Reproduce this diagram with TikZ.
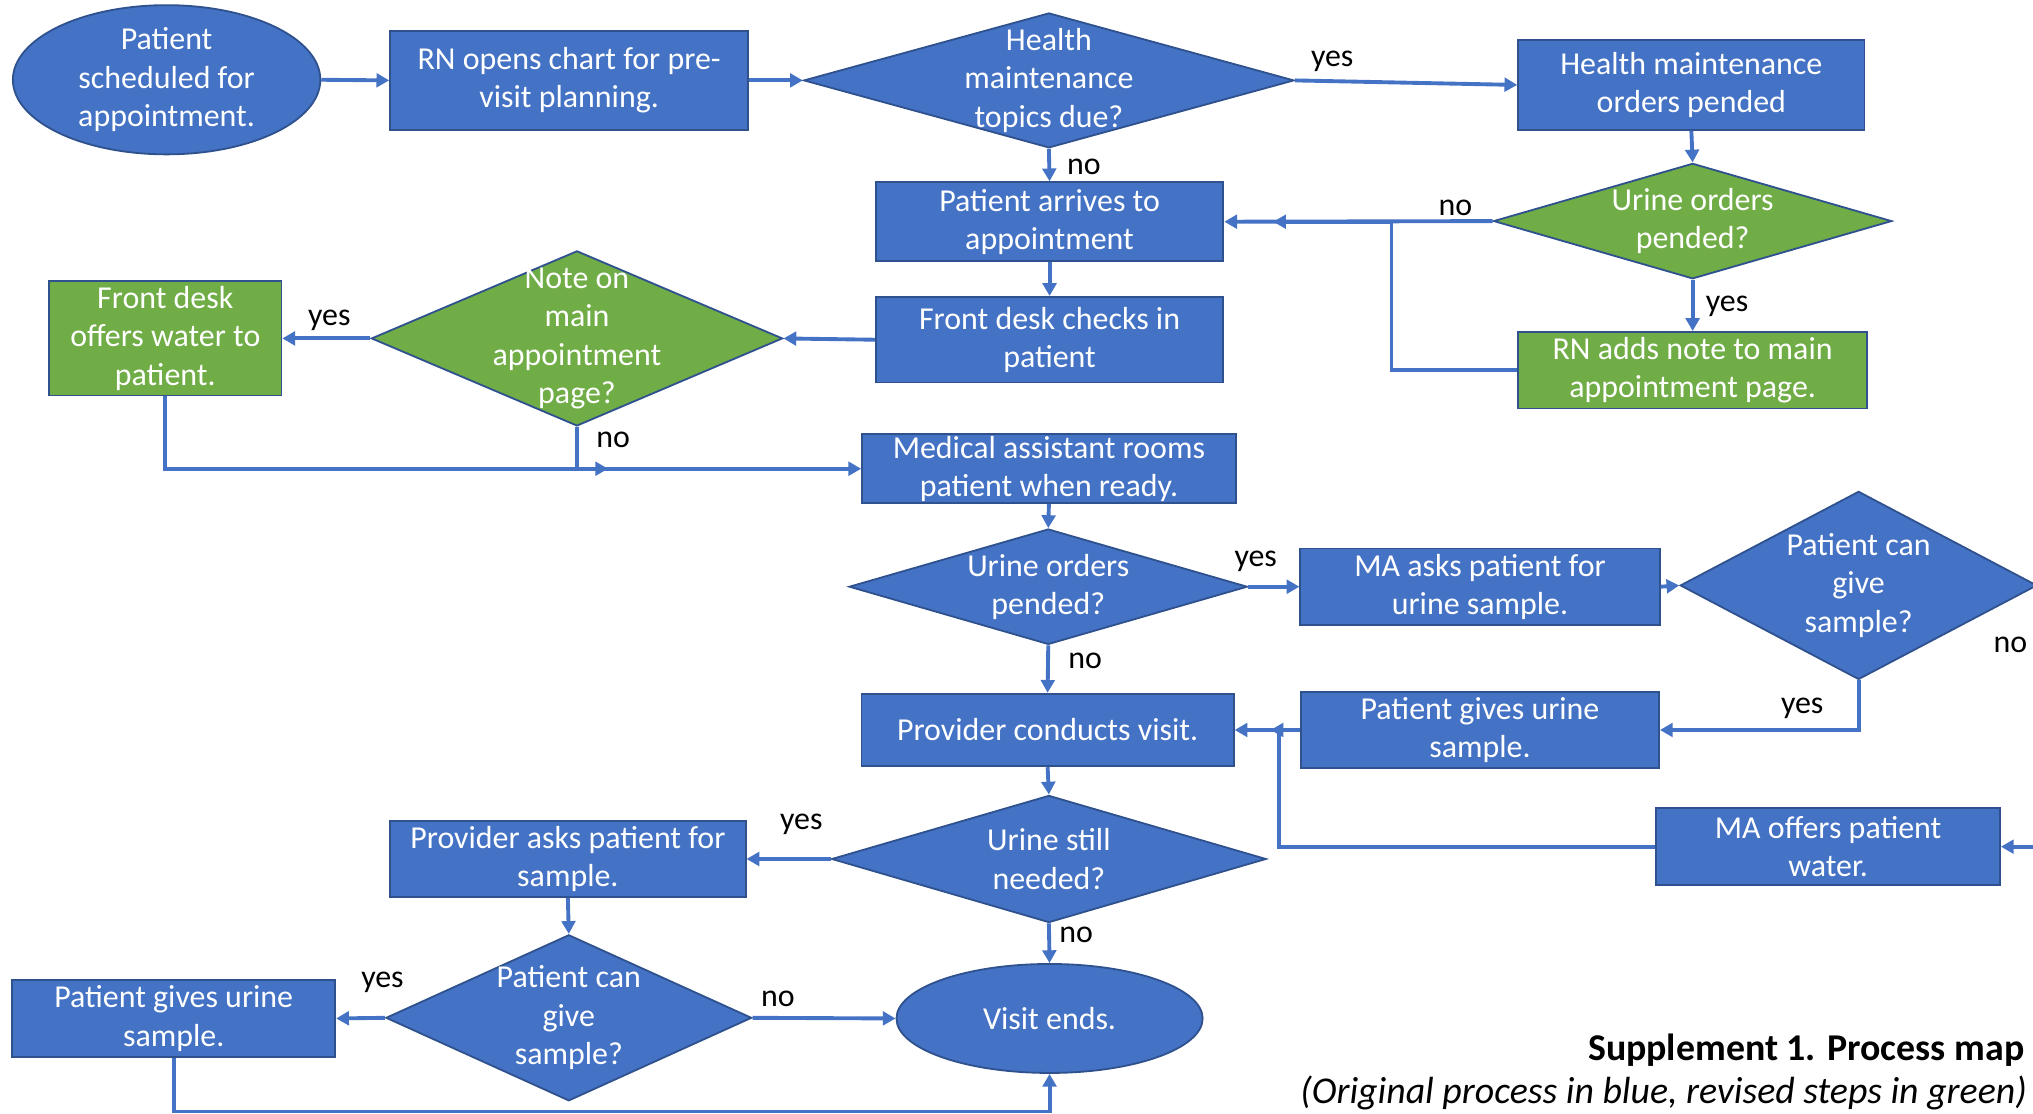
\documentclass[tikz,border=0pt]{standalone}
\usepackage{fontspec}
\setmainfont{Carlito}
\usetikzlibrary{shapes.geometric,arrows.meta,positioning}
\definecolor{fillblue}{HTML}{4472C4}
\definecolor{edgeblue}{HTML}{2F528F}
\definecolor{fillgreen}{HTML}{70AD47}
\definecolor{wireblue}{HTML}{4472C4}

\begin{document}
\begin{tikzpicture}[x=0.01cm,y=-0.01cm,
  every node/.style={font=\fontsize{7}{8.4}\selectfont},
  stepbox/.style={rectangle,draw=edgeblue,line width=0.4pt,fill=fillblue,text=white,align=center,inner sep=0pt},
  greenbox/.style={stepbox,fill=fillgreen},
  ask/.style={diamond,draw=edgeblue,line width=0.4pt,fill=fillblue,inner sep=0pt},
  greenask/.style={ask,fill=fillgreen},
  terminal/.style={ellipse,draw=edgeblue,line width=0.4pt,fill=fillblue,inner sep=0pt},
  inside/.style={text=white,align=center},
  answer/.style={text=black},
  flow/.style={draw=wireblue,line width=0.85pt,-{Triangle[length=2.8pt,width=3pt]}}]

\useasboundingbox (0,0) rectangle (1568,859);

\node[terminal,minimum width=2.37cm,minimum height=1.15cm,label={[inside]center:Patient\\scheduled for\\appointment.}] (sched) at (128.5,61.5) {};
\node[stepbox,minimum width=2.76cm,minimum height=0.76cm] (chart) at (439,62) {RN opens chart for pre-\\visit planning.};
\node[ask,minimum width=3.78cm,minimum height=1.04cm,label={[inside]center:Health\\maintenance\\topics due?}] (hmdue) at (809,62) {};
\node[stepbox,minimum width=2.67cm,minimum height=0.69cm] (hmorder) at (1304.5,65.5) {Health maintenance\\orders pended};
\node[greenask,minimum width=3.07cm,minimum height=0.89cm,label={[inside]center:Urine orders\\pended?}] (urineg) at (1305.5,170.5) {};
\node[greenbox,minimum width=2.69cm,minimum height=0.59cm] (rnnote) at (1305.5,285.5) {RN adds note to main\\appointment page.};
\node[stepbox,minimum width=2.68cm,minimum height=0.61cm] (arrive) at (809.5,171) {Patient arrives to\\appointment};
\node[stepbox,minimum width=2.68cm,minimum height=0.66cm] (checkin) at (809.5,262) {Front desk checks in\\patient};
\node[greenask,minimum width=3.17cm,minimum height=1.35cm,label={[inside]center:Note on\\main\\appointment\\page?}] (note) at (445,261) {};
\node[greenbox,minimum width=1.79cm,minimum height=0.88cm] (water1) at (127.5,261) {Front desk\\offers water to\\patient.};
\node[stepbox,minimum width=2.88cm,minimum height=0.53cm] (rooms) at (809,361.5) {Medical assistant rooms\\patient when ready.};
\node[ask,minimum width=3.07cm,minimum height=0.89cm,label={[inside]center:Urine orders\\pended?}] (urineb) at (808.5,452.5) {};
\node[stepbox,minimum width=2.77cm,minimum height=0.59cm] (maask) at (1141.5,452.5) {MA asks patient for\\urine sample.};
\node[ask,minimum width=2.75cm,minimum height=1.45cm,label={[inside]center:Patient can\\give\\sample?}] (canr) at (1433.5,451.5) {};
\node[stepbox,minimum width=2.87cm,minimum height=0.56cm] (visit) at (808,563) {Provider conducts visit.};
\node[stepbox,minimum width=2.76cm,minimum height=0.58cm] (givesr) at (1141.5,563) {Patient gives urine\\sample.};
\node[stepbox,minimum width=2.65cm,minimum height=0.59cm] (water2) at (1410,653) {MA offers patient\\water.};
\node[ask,minimum width=3.35cm,minimum height=0.98cm,label={[inside]center:Urine still\\needed?}] (still) at (809,662.5) {};
\node[stepbox,minimum width=2.74cm,minimum height=0.59cm] (provask) at (438,662.5) {Provider asks patient for\\sample.};
\node[ask,minimum width=2.82cm,minimum height=1.28cm,label={[inside]center:Patient can\\give\\sample?}] (canl) at (438.7,785) {};
\node[stepbox,minimum width=2.49cm,minimum height=0.59cm] (givesl) at (134,785.5) {Patient gives urine\\sample.};
\node[terminal,minimum width=2.36cm,minimum height=0.84cm,label={[inside]center:Visit ends.}] (done) at (809.5,785.5) {};

\node[answer] (yes1) at (1027.5,47.5) {yes};
\node[answer] (no1) at (836,128.5) {no};
\node[answer] (no2) at (1122.5,160) {no};
\node[answer] (yes2) at (1332,236) {yes};
\node[answer] (yes3) at (254,247) {yes};
\node[answer] (no3) at (473,339) {no};
\node[answer] (yes4) at (968.5,433) {yes};
\node[answer] (no4) at (837,510) {no};
\node[answer] (no5) at (1550.5,497) {no};
\node[answer] (yes5) at (1390,546) {yes};
\node[answer] (yes6) at (618,636) {yes};
\node[answer] (no6) at (830,721) {no};
\node[answer] (yes7) at (295,758) {yes};
\node[answer] (no7) at (600,770) {no};

\coordinate (tipa) at (982,171);
\coordinate (tipb) at (469,361.5);
\coordinate (tipc) at (980,563);

\draw[flow] (sched.east) -- (chart.west);
\draw[flow] (chart.east) -- (hmdue.west);
\draw[flow] (hmdue.east) -- (hmorder.west);
\draw[flow] (hmdue.south) -- (arrive.north);
\draw[flow] (hmorder.south) -- (urineg.north);
\draw[flow] (urineg.west) -- (arrive.east);
\draw[flow] (rnnote.west) -- ++(-97,0) |- (tipa);
\draw[flow] (urineg.south) -- (rnnote.north);
\draw[flow] (arrive.south) -- (checkin.north);
\draw[flow] (checkin.west) -- (note.east);
\draw[flow] (note.west) -- (water1.east);
\draw[flow] (water1.south) |- (tipb);
\draw[flow] (note.south) |- (rooms.west);
\draw[flow] (rooms.south) -- (urineb.north);
\draw[flow] (urineb.east) -- (maask.west);
\draw[flow] (urineb.south) -- (visit.north);
\draw[flow] (maask.east) -- (canr.west);
\draw[flow] (canr.south) |- (givesr.east);
\draw[flow] (givesr.west) -- (visit.east);
\draw[flow] (water2.west) -- ++(-290,0) |- (tipc);
\draw[flow] (canr.east) -- ++(30,0) |- (water2.east);
\draw[flow] (visit.south) -- (still.north);
\draw[flow] (still.west) -- (provask.east);
\draw[flow] (still.south) -- (done.north);
\draw[flow] (provask.south) -- (canl.north);
\draw[flow] (canl.west) -- (givesl.east);
\draw[flow] (canl.east) -- (done.west);
\draw[flow] (givesl.south) -- ++(0,41.5) -| (done.south);

\node[anchor=base east,inner sep=0pt,font=\fontsize{8.3}{10}\selectfont\bfseries] (title) at (1562,818) {Supplement 1. Process map};
\node[anchor=base east,inner sep=0pt,font=\fontsize{8.3}{10}\selectfont\itshape] (subtitle) at (1564,851) {(Original process in blue, revised steps in green)};

\end{tikzpicture}
\end{document}
